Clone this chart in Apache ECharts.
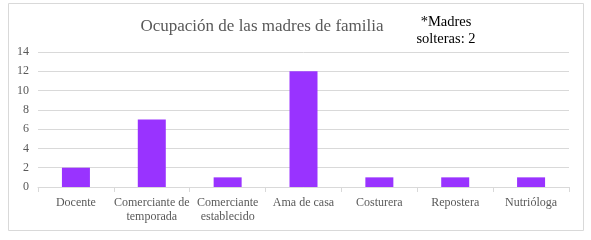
<!DOCTYPE html>
<html>
<head>
<meta charset="utf-8">
<script src="https://cdn.jsdelivr.net/npm/echarts@6/dist/echarts.min.js"></script>
<style>
	html, body { margin: 0; padding: 0; background: #fff; }
	#chart { width: 591px; height: 240px; }
</style>
</head>
<body>
<div id="chart"></div>
<script>
	// datos
	const categorias = ["Docente", "Comerciante de\ntemporada", "Comerciante\nestablecido", "Ama de casa", "Costurera", "Repostera", "Nutrióloga"];
	const valores = [2, 7, 1, 12, 1, 1, 1];
	const titulo = "Ocupación de las madres de familia";
	const nota = "*Madres\nsolteras: 2";

	const serif = "Liberation Serif";
	const myChart = echarts.init(document.getElementById("chart"));

	const option = {
		animation: false,
		textStyle: { fontFamily: serif },
		graphic: [
			{
				type: "rect",
				shape: { x: 8.5, y: 3.5, width: 575, height: 227 },
				style: { fill: "none", stroke: "#d9d9d9", lineWidth: 1 },
				silent: true
			},
			{
				// título
				type: "text",
				x: 262,
				y: 18,
				style: {
					text: titulo,
					fontFamily: serif,
					fontSize: 17,
					fill: "#595959",
					align: "center"
				}
			},
			{
				// nota
				type: "text",
				x: 446,
				y: 14,
				style: {
					text: nota,
					fontFamily: serif,
					fontSize: 14.5,
					lineHeight: 17,
					fill: "#000",
					align: "center"
				}
			}
		],
		grid: {
			left: 38,
			right: 22,
			top: 52,
			bottom: 53
		},
		xAxis: {
			type: "category",
			data: categorias,
			axisLine: { lineStyle: { color: "#d9d9d9" } },
			axisTick: { show: true, length: 5, lineStyle: { color: "#d9d9d9" } },
			axisLabel: {
				interval: 0,
				margin: 9,
				color: "#595959",
				fontSize: 12,
				lineHeight: 14,
				fontFamily: serif
			}
		},
		yAxis: {
			type: "value",
			min: 0,
			max: 14,
			interval: 2,
			axisLine: { show: false },
			axisTick: { show: false },
			splitLine: { lineStyle: { color: "#d9d9d9" } },
			axisLabel: {
				margin: 9,
				color: "#595959",
				fontSize: 12,
				fontFamily: serif
			}
		},
		series: [
			{
				type: "bar",
				data: valores,
				barWidth: 28,
				itemStyle: { color: "#9933ff" }
			}
		]
	};

	myChart.setOption(option);
</script>
</body>
</html>
